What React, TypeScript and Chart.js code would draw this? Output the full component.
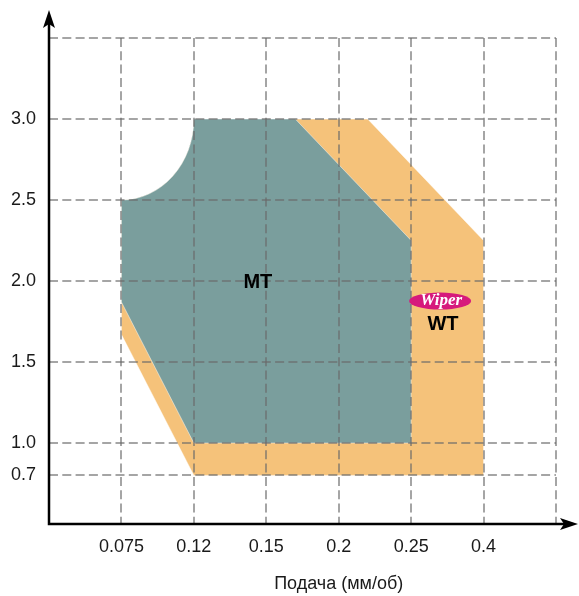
import React, { useEffect, useRef } from 'react';
import { Chart, registerables } from 'chart.js';

Chart.register(...registerables);

// ---- axis ticks ----
const feedTicks = [0.075, 0.12, 0.15, 0.2, 0.25, 0.4];
const feedTickLabels = ['0.075', '0.12', '0.15', '0.2', '0.25', '0.4'];
const depthTicks = [0.7, 1.0, 1.5, 2.0, 2.5, 3.0];
const depthTickLabels = ['0.7', '1.0', '1.5', '2.0', '2.5', '3.0'];
// grid slot (scale unit) of each tick – the axes are not proportional
const feedSlots = [1, 2, 3, 4, 5, 6];
const depthSlots = [0.6, 1, 2, 3, 4, 5];

// ---- MT area (feed mm/rev, depth mm); closed by a quarter-ellipse cut ----
const mtFeed = [0.075, 0.075, 0.12, 0.25, 0.25, 0.17, 0.12];
const mtDepth = [2.5, 1.87, 1.0, 1.0, 2.25, 3.0, 3.0];
const cutCorner = { feed: 0.075, depth: 3.0 };

// ---- WT (Wiper) area; shares the same corner cut ----
const wtFeed = [0.075, 0.075, 0.12, 0.4, 0.4, 0.22, 0.12];
const wtDepth = [2.5, 1.67, 0.7, 0.7, 2.25, 3.0, 3.0];

// ---- annotations ----
const labelMT = { text: 'MT', feed: 0.1465, depth: 2.0 };
const labelWT = { text: 'WT', feed: 0.316, depth: 1.74 };
const labelWiper = { text: 'Wiper', feed: 0.31, depth: 1.876 };
const xTitle = 'Подача (мм/об)';

const MT_COLOR = '#7a9e9d';
const WT_COLOR = '#f5c27a';
const WIPER_COLOR = '#d6197c';
const FONT = '"Liberation Sans", Arial, Helvetica, sans-serif';

function toSlot(v: number, vals: number[], slots: number[]): number {
  const n = vals.length;
  let i = 0;
  if (v <= vals[0]) i = 0;
  else if (v >= vals[n - 1]) i = n - 2;
  else {
    for (let k = 0; k < n - 1; k++) {
      if (v >= vals[k] && v <= vals[k + 1]) { i = k; break; }
    }
  }
  return slots[i] + ((v - vals[i]) / (vals[i + 1] - vals[i])) * (slots[i + 1] - slots[i]);
}
const feedSlot = (f: number) => toSlot(f, feedTicks, feedSlots);
const depthSlot = (d: number) => toSlot(d, depthTicks, depthSlots);

function areaPath(chart: any, feed: number[], depth: number[]) {
  const { ctx } = chart;
  const x = chart.scales.x;
  const y = chart.scales.y;
  const px = (f: number) => x.getPixelForValue(feedSlot(f));
  const py = (d: number) => y.getPixelForValue(depthSlot(d));
  ctx.beginPath();
  feed.forEach((f, i) => {
    const X = px(f), Y = py(depth[i]);
    if (i === 0) ctx.moveTo(X, Y); else ctx.lineTo(X, Y);
  });
  // concave quarter-ellipse from last vertex back to first vertex
  const cx = px(cutCorner.feed);
  const cy = py(cutCorner.depth);
  const rx = px(feed[feed.length - 1]) - cx;
  const ry = py(depth[0]) - cy;
  ctx.ellipse(cx, cy, rx, ry, 0, 0, Math.PI / 2, false);
  ctx.closePath();
}

const shapesPlugin = {
  id: 'shapes',
  beforeDraw(chart: any) {
    const { ctx } = chart;
    ctx.save();
    areaPath(chart, wtFeed, wtDepth);
    ctx.fillStyle = WT_COLOR;
    ctx.fill();
    ctx.strokeStyle = 'rgba(255,255,255,0.5)';
    ctx.lineWidth = 1;
    ctx.stroke();
    areaPath(chart, mtFeed, mtDepth);
    ctx.fillStyle = MT_COLOR;
    ctx.fill();
    ctx.strokeStyle = 'rgba(255,255,255,0.45)';
    ctx.lineWidth = 1;
    ctx.stroke();
    ctx.restore();
  },
  afterDraw(chart: any) {
    const { ctx, chartArea, width } = chart;
    const x = chart.scales.x;
    const y = chart.scales.y;
    const px = (f: number) => x.getPixelForValue(feedSlot(f));
    const py = (d: number) => y.getPixelForValue(depthSlot(d));
    const x0 = x.getPixelForValue(0);
    const y0 = y.getPixelForValue(0);
    ctx.save();
    // axes
    ctx.strokeStyle = '#000';
    ctx.fillStyle = '#000';
    ctx.lineWidth = 2.5;
    ctx.beginPath();
    ctx.moveTo(x0, y0 + 1.2);
    ctx.lineTo(x0, chartArea.top - 16);
    ctx.moveTo(x0 - 1.2, y0);
    ctx.lineTo(width - 14, y0);
    ctx.stroke();
    // y arrow
    const tipY = chartArea.top - 28;
    ctx.beginPath();
    ctx.moveTo(x0, tipY);
    ctx.lineTo(x0 + 6, tipY + 18);
    ctx.lineTo(x0, tipY + 14);
    ctx.lineTo(x0 - 6, tipY + 18);
    ctx.closePath();
    ctx.fill();
    // x arrow
    const tipX = width - 1;
    ctx.beginPath();
    ctx.moveTo(tipX, y0);
    ctx.lineTo(tipX - 18, y0 - 6);
    ctx.lineTo(tipX - 14, y0);
    ctx.lineTo(tipX - 18, y0 + 6);
    ctx.closePath();
    ctx.fill();

    // x title
    ctx.fillStyle = '#1a1a1a';
    ctx.font = `18px ${FONT}`;
    ctx.textAlign = 'center';
    ctx.textBaseline = 'middle';
    ctx.fillText(xTitle, x.getPixelForValue(4), 584);

    // MT / WT labels
    ctx.fillStyle = '#000';
    ctx.font = `bold 20px ${FONT}`;
    ctx.fillText(labelMT.text, px(labelMT.feed), py(labelMT.depth) + 1);
    ctx.fillText(labelWT.text, px(labelWT.feed), py(labelWT.depth) + 1);

    // Wiper badge
    const wx = px(labelWiper.feed);
    const wy = py(labelWiper.depth);
    ctx.fillStyle = WIPER_COLOR;
    ctx.beginPath();
    ctx.ellipse(wx, wy, 31, 8.5, 0, 0, Math.PI * 2);
    ctx.fill();
    ctx.fillStyle = '#fff';
    ctx.font = 'bold italic 17px "Liberation Serif", "DejaVu Serif", serif';
    ctx.fillText(labelWiper.text, wx + 1, wy);
    ctx.restore();
  },
};

export default function App() {
  const ref = useRef<HTMLCanvasElement | null>(null);
  useEffect(() => {
    if (!ref.current) return;
    const xTickVals = [0, ...feedSlots, 7];
    const yTickVals = [0, ...depthSlots, 6];
    const chart = new Chart(ref.current, {
      type: 'scatter',
      data: {
        datasets: [
          {
            label: 'WT',
            data: wtFeed.map((f, i) => ({ x: feedSlot(f), y: depthSlot(wtDepth[i]) })),
            pointRadius: 0,
            showLine: false,
          },
          {
            label: 'MT',
            data: mtFeed.map((f, i) => ({ x: feedSlot(f), y: depthSlot(mtDepth[i]) })),
            pointRadius: 0,
            showLine: false,
          },
        ],
      },
      options: {
        animation: false,
        responsive: false,
        devicePixelRatio: 1,
        events: [],
        layout: { padding: { top: 38, right: 23, left: 0, bottom: 0 } },
        plugins: { legend: { display: false }, tooltip: { enabled: false } },
        scales: {
          x: {
            type: 'linear',
            min: 0,
            max: 7,
            afterBuildTicks: (s: any) => { s.ticks = xTickVals.map((v) => ({ value: v })); },
            afterFit: (s: any) => { s.height = 72; },
            grid: { color: 'rgba(105,105,105,0.6)', lineWidth: 2, drawTicks: false },
            border: { display: false, dash: [9, 4.3] },
            ticks: {
              autoSkip: false,
              maxRotation: 0,
              padding: 12,
              color: '#1a1a1a',
              font: { family: FONT, size: 18 },
              callback: (v: any) => {
                const i = feedSlots.indexOf(Number(v));
                return i >= 0 ? feedTickLabels[i] : '';
              },
            },
          },
          y: {
            type: 'linear',
            min: 0,
            max: 6,
            afterBuildTicks: (s: any) => { s.ticks = yTickVals.map((v) => ({ value: v })); },
            afterFit: (s: any) => { s.width = 49; },
            grid: { color: 'rgba(105,105,105,0.6)', lineWidth: 2, drawTicks: false },
            border: { display: false, dash: [9, 4.3] },
            ticks: {
              autoSkip: false,
              padding: 13,
              color: '#1a1a1a',
              font: { family: FONT, size: 18 },
              callback: (v: any) => {
                const i = depthSlots.indexOf(Number(v));
                return i >= 0 ? depthTickLabels[i] : '';
              },
            },
          },
        },
      },
      plugins: [shapesPlugin],
    });
    return () => chart.destroy();
  }, []);
  return (
    <div style={{ position: 'absolute', left: 0, top: 0, width: 579, height: 596, background: '#fff' }}>
      <canvas ref={ref} width={579} height={596} style={{ display: 'block' }} />
    </div>
  );
}
